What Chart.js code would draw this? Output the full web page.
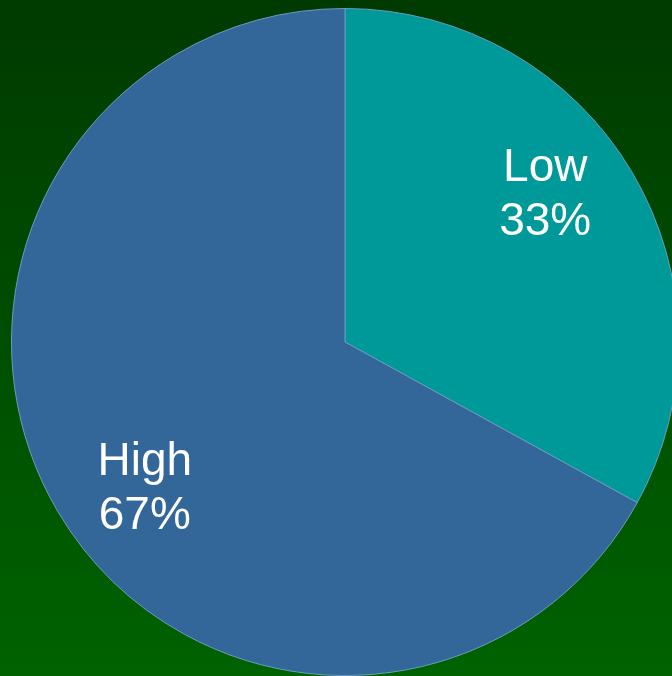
<!DOCTYPE html>
<html>
<head>
<meta charset="utf-8">
<script src="https://cdn.jsdelivr.net/npm/chart.js@4/dist/chart.umd.min.js"></script>
<style>
  html, body { margin: 0; padding: 0; }
  body {
    width: 672px; height: 676px; overflow: hidden;
    background: linear-gradient(to bottom, #003a00 0%, #004c00 45%, #006200 100%);
  }
  #wrap { position: absolute; left: 0; top: 0; width: 690px; height: 684px; }
</style>
</head>
<body>
<div id="wrap"><canvas id="c" width="690" height="684"></canvas></div>
<script>
const categories = ["Low", "High"];
const values = [33, 67];
const percentLabels = ["33%", "67%"];
const colors = ["#009999", "#336699"];

const labelPlugin = {
  id: 'sliceLabels',
  afterDatasetsDraw(chart) {
    const ctx = chart.ctx;
    const meta = chart.getDatasetMeta(0);
    ctx.save();
    ctx.fillStyle = '#ffffff';
    ctx.font = '46px "Liberation Sans", Arial, sans-serif';
    ctx.textAlign = 'center';
    ctx.textBaseline = 'middle';
    meta.data.forEach((arc, i) => {
      const p = arc.getProps(['x', 'y', 'startAngle', 'endAngle', 'outerRadius'], true);
      const mid = (p.startAngle + p.endAngle) / 2 - 5.7 * Math.PI / 180;
      const r = p.outerRadius * 0.745;
      const cx = p.x + Math.cos(mid) * r;
      const cy = p.y + Math.sin(mid) * r;
      ctx.fillText(categories[i], cx, cy - 27);
      ctx.fillText(percentLabels[i], cx, cy + 27);
    });
    ctx.restore();
  }
};

new Chart(document.getElementById('c'), {
  type: 'pie',
  data: {
    labels: categories,
    datasets: [{
      data: values,
      backgroundColor: colors,
      borderColor: '#6a9cbf',
      borderWidth: 1
    }]
  },
  options: {
    responsive: false,
    animation: false,
    layout: { padding: 8 },
    plugins: { legend: { display: false }, tooltip: { enabled: false } }
  },
  plugins: [labelPlugin]
});
</script>
</body>
</html>
